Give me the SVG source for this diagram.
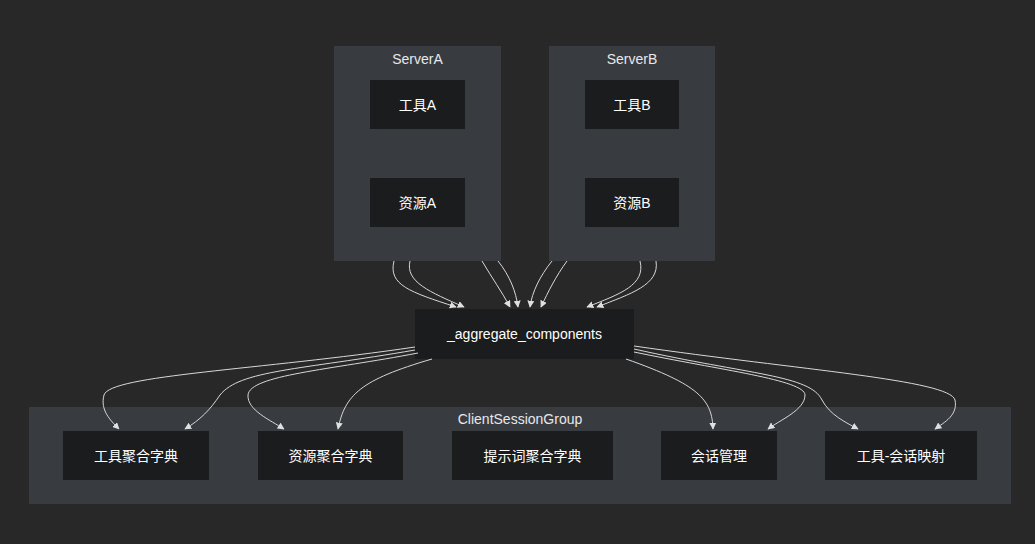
<svg xmlns="http://www.w3.org/2000/svg" width="1035" height="544" viewBox="0 0 1035 544">
<style>
.cl{fill:#383b40}
.n{fill:#1b1c1e}
.t{font-family:"Liberation Sans","Noto Sans CJK SC",sans-serif;font-size:14px;fill:#ffffff;text-anchor:middle;dominant-baseline:central}
.ct{font-family:"Liberation Sans","Noto Sans CJK SC",sans-serif;font-size:14px;fill:#e8e8e8;text-anchor:middle;dominant-baseline:central}
.e{fill:none;stroke:#d8d8d8;stroke-width:1;marker-end:url(#a)}
</style>
<defs><marker id="a" viewBox="0 0 10 10" refX="9" refY="5" markerWidth="7" markerHeight="7" orient="auto"><path d="M0,0L10,5L0,10z" fill="#e0e0e0"/></marker></defs>
<rect width="1035" height="544" fill="#282828"/>
<g id="ServerA"><rect class="cl" x="334" y="46" width="167" height="215"/><text class="ct" x="417.5" y="59">ServerA</text></g>
<g id="ServerB"><rect class="cl" x="549" y="46" width="166" height="215"/><text class="ct" x="632" y="59">ServerB</text></g>
<g id="ClientSessionGroup"><rect class="cl" x="29" y="407" width="982" height="97"/><text class="ct" x="520" y="419">ClientSessionGroup</text></g>
<g id="toolA"><rect class="n" x="370" y="80" width="95" height="49"/><text class="t" x="417.5" y="105">工具A</text></g>
<g id="resA"><rect class="n" x="370" y="178" width="95" height="49"/><text class="t" x="417.5" y="203">资源A</text></g>
<g id="toolB"><rect class="n" x="585" y="80" width="94" height="49"/><text class="t" x="632" y="105">工具B</text></g>
<g id="resB"><rect class="n" x="585" y="178" width="94" height="49"/><text class="t" x="632" y="203">资源B</text></g>
<g id="agg"><rect class="n" x="415" y="309" width="219" height="50"/><text class="t" x="524.5" y="334">_aggregate_components</text></g>
<g id="d1"><rect class="n" x="63" y="431" width="146" height="49"/><text class="t" x="136" y="456">工具聚合字典</text></g>
<g id="d2"><rect class="n" x="258" y="431" width="145" height="49"/><text class="t" x="330.5" y="456">资源聚合字典</text></g>
<g id="d3"><rect class="n" x="452" y="431" width="161" height="49"/><text class="t" x="532.5" y="456">提示词聚合字典</text></g>
<g id="d4"><rect class="n" x="661" y="431" width="116" height="49"/><text class="t" x="719" y="456">会话管理</text></g>
<g id="d5"><rect class="n" x="825" y="431" width="152" height="49"/><text class="t" x="901" y="456">工具-会话映射</text></g>
<g id="edges">
<path class="e" d="M394,261C388,285 410,292 456,307"/>
<path class="e" d="M410,261C405,282 430,292 464,307"/>
<path class="e" d="M482,261C492,278 502,292 510,307"/>
<path class="e" d="M498,261C510,276 516,292 518,307"/>
<path class="e" d="M552,261C540,276 532,292 530,307"/>
<path class="e" d="M567,261C556,276 548,292 541,307"/>
<path class="e" d="M640,261C646,285 620,294 587,307"/>
<path class="e" d="M656,261C660,285 630,294 597,307"/>
<path class="e" d="M415,347C260,370 110,375 104,395C100,410 110,420 119,429"/>
<path class="e" d="M415,350C300,370 240,370 220,395C210,410 200,420 185,429"/>
<path class="e" d="M418,353C330,370 250,375 248,395C247,410 270,420 284,429"/>
<path class="e" d="M432,359C360,380 345,395 338,429"/>
<path class="e" d="M626,359C700,385 712,400 713,429"/>
<path class="e" d="M634,352C720,370 805,380 805,395C805,410 780,420 768,429"/>
<path class="e" d="M634,349C750,375 810,375 822,400C830,415 845,422 858,429"/>
<path class="e" d="M634,346C800,370 950,380 955,400C958,415 945,422 935,429"/>
</g>
</svg>
